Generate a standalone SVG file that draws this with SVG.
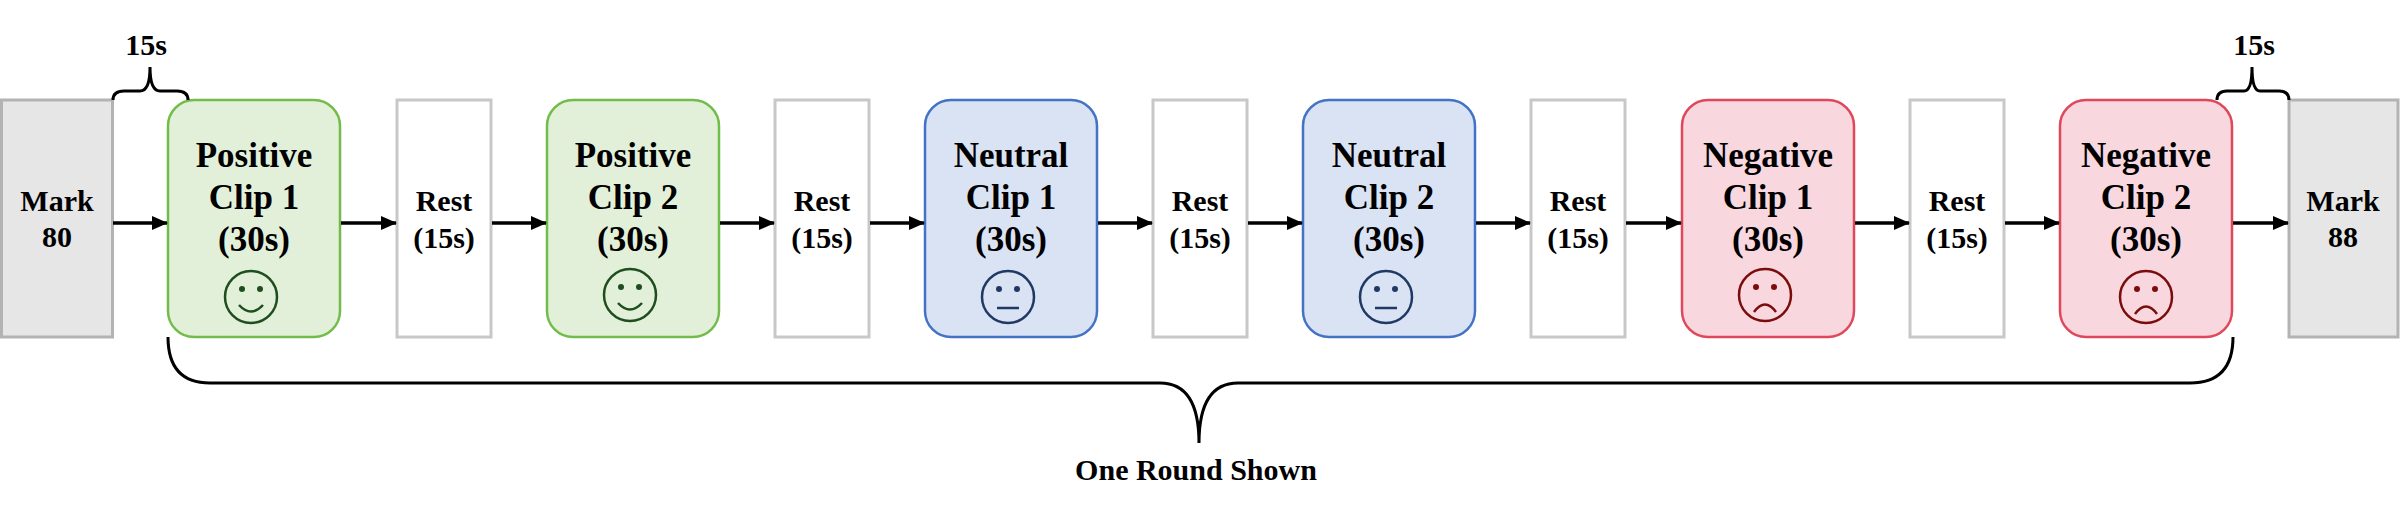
<svg xmlns="http://www.w3.org/2000/svg" width="2400" height="517" viewBox="0 0 2400 517">
<defs>
<marker id="ah" markerWidth="16" markerHeight="14" refX="15" refY="7" orient="auto" markerUnits="userSpaceOnUse"><path d="M0,0 L16,7 L0,14 z"/></marker>
<style>
text{font-family:"Liberation Serif","Times New Roman","DejaVu Serif",serif;font-weight:700;text-anchor:middle;fill:#000}
.clip{font-size:35px}
.sm{font-size:30px}
.mark{fill:#e6e6e6;stroke:#b3b3b3;stroke-width:3}
.rest{fill:#fff;stroke:#c8c8c8;stroke-width:3}
.pos{fill:#e2f0d9;stroke:#72bd4a;stroke-width:2.5}
.neu{fill:#dae3f3;stroke:#4472c4;stroke-width:2.5}
.neg{fill:#f8d8de;stroke:#e0475a;stroke-width:2.5}
.face{fill:none;stroke-width:2.5}
.brace{fill:none;stroke:#000;stroke-width:3}
.conn line{stroke:#000;stroke-width:3.5;marker-end:url(#ah)}
</style>
</defs>
<g id="mark80"><rect class="mark" x="1.5" y="100" width="111" height="237"/><text class="sm" x="57" y="211">Mark</text><text class="sm" x="57" y="247">80</text></g>
<g id="pos1"><rect class="pos" x="168" y="100" width="172" height="237" rx="26"/><text class="clip" x="254" y="167">Positive</text><text class="clip" x="254" y="209">Clip 1</text><text class="clip" x="254" y="251">(30s)</text>
<g class="face" stroke="#1e4d1e"><circle cx="251" cy="297" r="26"/><path d="M239,305 Q251,318 263,305"/></g><circle cx="242" cy="289" r="3" fill="#1e4d1e"/><circle cx="260" cy="289" r="3" fill="#1e4d1e"/></g>
<g id="rest1"><rect class="rest" x="397" y="100" width="94" height="237"/><text class="sm" x="444" y="211">Rest</text><text class="sm" x="444" y="248">(15s)</text></g>
<g id="pos2"><rect class="pos" x="547" y="100" width="172" height="237" rx="26"/><text class="clip" x="633" y="167">Positive</text><text class="clip" x="633" y="209">Clip 2</text><text class="clip" x="633" y="251">(30s)</text>
<g class="face" stroke="#1e4d1e"><circle cx="630" cy="295" r="26"/><path d="M618,303 Q630,316 642,303"/></g><circle cx="621" cy="287" r="3" fill="#1e4d1e"/><circle cx="639" cy="287" r="3" fill="#1e4d1e"/></g>
<g id="rest2"><rect class="rest" x="775" y="100" width="94" height="237"/><text class="sm" x="822" y="211">Rest</text><text class="sm" x="822" y="248">(15s)</text></g>
<g id="neu1"><rect class="neu" x="925" y="100" width="172" height="237" rx="26"/><text class="clip" x="1011" y="167">Neutral</text><text class="clip" x="1011" y="209">Clip 1</text><text class="clip" x="1011" y="251">(30s)</text>
<g class="face" stroke="#1f3864"><circle cx="1008" cy="297" r="26"/><path d="M997,308 L1019,308"/></g><circle cx="999" cy="289" r="3" fill="#1f3864"/><circle cx="1017" cy="289" r="3" fill="#1f3864"/></g>
<g id="rest3"><rect class="rest" x="1153" y="100" width="94" height="237"/><text class="sm" x="1200" y="211">Rest</text><text class="sm" x="1200" y="248">(15s)</text></g>
<g id="neu2"><rect class="neu" x="1303" y="100" width="172" height="237" rx="26"/><text class="clip" x="1389" y="167">Neutral</text><text class="clip" x="1389" y="209">Clip 2</text><text class="clip" x="1389" y="251">(30s)</text>
<g class="face" stroke="#1f3864"><circle cx="1386" cy="297" r="26"/><path d="M1375,308 L1397,308"/></g><circle cx="1377" cy="289" r="3" fill="#1f3864"/><circle cx="1395" cy="289" r="3" fill="#1f3864"/></g>
<g id="rest4"><rect class="rest" x="1531" y="100" width="94" height="237"/><text class="sm" x="1578" y="211">Rest</text><text class="sm" x="1578" y="248">(15s)</text></g>
<g id="neg1"><rect class="neg" x="1682" y="100" width="172" height="237" rx="26"/><text class="clip" x="1768" y="167">Negative</text><text class="clip" x="1768" y="209">Clip 1</text><text class="clip" x="1768" y="251">(30s)</text>
<g class="face" stroke="#7b0c0c"><circle cx="1765" cy="295" r="26"/><path d="M1754,312 Q1765,297 1776,312"/></g><circle cx="1756" cy="287" r="3" fill="#7b0c0c"/><circle cx="1774" cy="287" r="3" fill="#7b0c0c"/></g>
<g id="rest5"><rect class="rest" x="1910" y="100" width="94" height="237"/><text class="sm" x="1957" y="211">Rest</text><text class="sm" x="1957" y="248">(15s)</text></g>
<g id="neg2"><rect class="neg" x="2060" y="100" width="172" height="237" rx="26"/><text class="clip" x="2146" y="167">Negative</text><text class="clip" x="2146" y="209">Clip 2</text><text class="clip" x="2146" y="251">(30s)</text>
<g class="face" stroke="#7b0c0c"><circle cx="2146" cy="297" r="26"/><path d="M2135,314 Q2146,299 2157,314"/></g><circle cx="2137" cy="289" r="3" fill="#7b0c0c"/><circle cx="2155" cy="289" r="3" fill="#7b0c0c"/></g>
<g id="mark88"><rect class="mark" x="2289" y="100" width="109" height="237"/><text class="sm" x="2343" y="211">Mark</text><text class="sm" x="2343" y="247">88</text></g>
<g class="conn">
<line x1="113" y1="223" x2="167" y2="223"/>
<line x1="341" y1="223" x2="396" y2="223"/>
<line x1="492" y1="223" x2="546" y2="223"/>
<line x1="720" y1="223" x2="774" y2="223"/>
<line x1="870" y1="223" x2="924" y2="223"/>
<line x1="1098" y1="223" x2="1152" y2="223"/>
<line x1="1248" y1="223" x2="1302" y2="223"/>
<line x1="1476" y1="223" x2="1530" y2="223"/>
<line x1="1626" y1="223" x2="1681" y2="223"/>
<line x1="1855" y1="223" x2="1909" y2="223"/>
<line x1="2005" y1="223" x2="2059" y2="223"/>
<line x1="2233" y1="223" x2="2288" y2="223"/>
</g>
<g id="braces">
<path class="brace" d="M113,100 Q113,91 124,91 L140,91 Q150,91 150,67 Q150,91 160,91 L177,91 Q188,91 188,100"/>
<text class="sm" x="146" y="55">15s</text>
<path class="brace" d="M2217,100 Q2217,91 2227,91 L2244,91 Q2252,91 2252,67 Q2252,91 2260,91 L2279,91 Q2289,91 2289,100"/>
<text class="sm" x="2254" y="55">15s</text>
<path class="brace" d="M168,337 Q168,383 210,383 L1160,383 Q1199,383 1199,443 Q1199,383 1238,383 L2190,383 Q2233,383 2233,337"/>
<text class="sm" x="1196" y="480">One Round Shown</text>
</g>
</svg>
